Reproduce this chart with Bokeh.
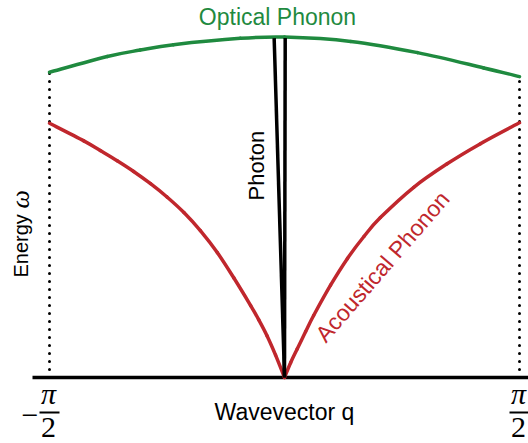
import math
from bokeh.plotting import figure
from bokeh.models import Range1d
from bokeh.core.properties import value
from bokeh.embed import file_html
from bokeh.resources import INLINE

# ---- data (q in units of pi, omega in arbitrary units) ----
acoustic_left_q = [-0.5, -0.427, -0.392, -0.356, -0.321, -0.285, -0.250, -0.214,
                   -0.179, -0.143, -0.108, -0.072, -0.055, -0.037, -0.019, 0.0]
acoustic_left_w = [0.997, 0.928, 0.890, 0.850, 0.808, 0.760, 0.708, 0.647,
                   0.576, 0.490, 0.391, 0.282, 0.227, 0.163, 0.088, 0.0]
acoustic_right_q = [0.0, 0.013, 0.027, 0.045, 0.062, 0.098, 0.134, 0.169, 0.204,
                    0.275, 0.346, 0.417, 0.5]
acoustic_right_w = [0.0, 0.058, 0.112, 0.180, 0.243, 0.362, 0.467, 0.553, 0.627,
                    0.746, 0.838, 0.917, 0.999]

optical_q = [-0.5, -0.377, -0.307, -0.236, -0.094, 0.0, 0.141, 0.283, 0.424, 0.5]
optical_w = [1.197, 1.259, 1.284, 1.305, 1.330, 1.335, 1.318, 1.274, 1.214, 1.180]

photon1_q = [0.0, -0.022]
photon1_w = [0.0, 1.331]
photon2_q = [0.0, 0.0015]
photon2_w = [0.0, 1.331]

edge_q = [-0.5, 0.5]
edge_labels = ["π", "π"]

GREEN = "#1f8a3f"
RED = "#c0272d"

W, H = 528, 443
X0, Y0 = 284.0, 377.0   # pixel position of q=0, w=0
SX, SY = 470.0, 255.0   # pixels per unit


def X(px):
    return (px - X0) / SX


def Y(py):
    return (Y0 - py) / SY


def smooth_curve(p, xs, ys, **kw):
    """Draw a smooth (Catmull-Rom) curve through the given points with bezier glyphs."""
    n = len(xs)
    x0, y0, x1, y1, cx0, cy0, cx1, cy1 = ([] for _ in range(8))
    for i in range(n - 1):
        ia, ib = max(i - 1, 0), min(i + 2, n - 1)
        x0.append(xs[i]); y0.append(ys[i])
        x1.append(xs[i + 1]); y1.append(ys[i + 1])
        cx0.append(xs[i] + (xs[i + 1] - xs[ia]) / 6.0)
        cy0.append(ys[i] + (ys[i + 1] - ys[ia]) / 6.0)
        cx1.append(xs[i + 1] - (xs[ib] - xs[i]) / 6.0)
        cy1.append(ys[i + 1] - (ys[ib] - ys[i]) / 6.0)
    p.bezier(x0=x0, y0=y0, x1=x1, y1=y1, cx0=cx0, cy0=cy0, cx1=cx1, cy1=cy1,
             line_cap="round", **kw)


p = figure(width=W, height=H, output_backend="svg", toolbar_location=None,
           x_range=Range1d(X(0), X(W)), y_range=Range1d(Y(H), Y(0)),
           x_axis_type=None, y_axis_type=None, min_border=0)
p.outline_line_color = None
p.grid.visible = False
p.background_fill_color = "white"
p.border_fill_color = "white"

# baseline (wavevector axis)
p.line([X(32), X(W)], [0, 0], line_color="black", line_width=3.5)

# dotted verticals at the zone edges
p.line([edge_q[0], edge_q[0]], [0, optical_w[0]], line_color="black",
       line_width=3, line_dash="0 8", line_cap="round")
p.line([edge_q[1], edge_q[1]], [0, optical_w[-1]], line_color="black",
       line_width=3, line_dash="0 8", line_cap="round")

# branches
smooth_curve(p, optical_q, optical_w, line_color=GREEN, line_width=3.5)
smooth_curve(p, acoustic_left_q, acoustic_left_w, line_color=RED, line_width=3.5)
smooth_curve(p, acoustic_right_q, acoustic_right_w, line_color=RED, line_width=3.5)
p.line(photon1_q, photon1_w, line_color="black", line_width=3.5)
p.line(photon2_q, photon2_w, line_color="black", line_width=3.5)

SANS = value("Liberation Sans")
SERIF = value("Liberation Serif")

p.text(x=[X(277)], y=[Y(16)], text=["Optical Phonon"], text_color=GREEN,
       text_font=SANS, text_font_size="23px", text_align="center",
       text_baseline="alphabetic")
p.text(x=[X(284)], y=[Y(411)], text=["Wavevector q"], text_color="black",
       text_font=SANS, text_font_size="23px", text_align="center",
       text_baseline="alphabetic")
p.text(x=[X(20)], y=[Y(277)], text=["Energy"], text_color="black",
       text_font=SANS, text_font_size="20px", text_align="left",
       text_baseline="alphabetic", angle=math.pi / 2)
p.text(x=[X(20)], y=[Y(208)], text=["ω"], text_color="black",
       text_font=SERIF, text_font_style="italic", text_font_size="26px",
       text_align="left", text_baseline="alphabetic", angle=math.pi / 2)
p.text(x=[X(256)], y=[Y(200)], text=["Photon"], text_color="black",
       text_font=SANS, text_font_size="22px", text_align="left",
       text_baseline="alphabetic", angle=math.pi / 2)
p.text(x=[X(382)], y=[Y(266)], text=["Acoustical Phonon"], text_color=RED,
       text_font=SANS, text_font_size="23px", text_align="center",
       text_baseline="middle", angle=math.radians(49))

# tick labels: -pi/2 and pi/2
p.text(x=edge_q, y=[Y(393)] * 2, text=edge_labels, text_color="black",
       text_font=SERIF, text_font_style="italic", text_font_size="30px",
       text_align="center", text_baseline="alphabetic", x_offset=-1)
p.text(x=edge_q, y=[Y(427)] * 2, text=["2", "2"], text_color="black",
       text_font=SERIF, text_font_size="30px",
       text_align="center", text_baseline="alphabetic", x_offset=-1)
p.segment(x0=[q - 10 / SX for q in edge_q], y0=[Y(412)] * 2,
          x1=[q + 10 / SX for q in edge_q], y1=[Y(412)] * 2,
          line_color="black", line_width=2)
p.text(x=[edge_q[0]], y=[Y(415)], text=["−"], text_color="black",
       text_font=SERIF, text_font_size="30px", text_align="right",
       text_baseline="middle", x_offset=-11)

open("out.html", "w").write(file_html(p, INLINE))
